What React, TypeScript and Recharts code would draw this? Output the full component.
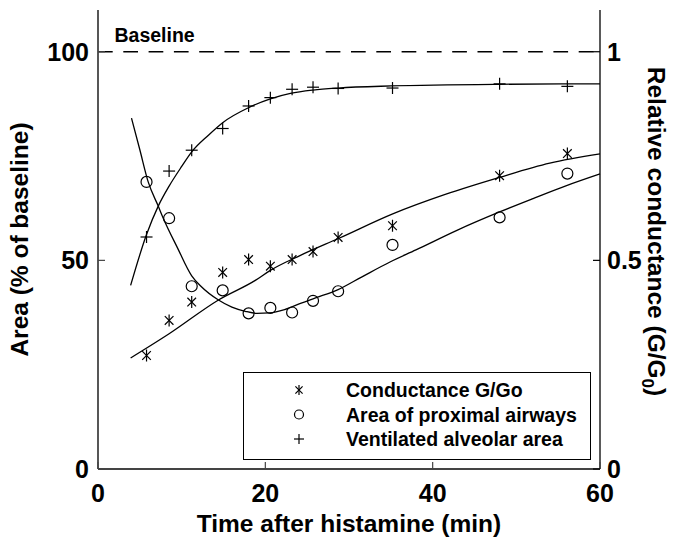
import React from 'react';
import {
  ComposedChart,
  Line,
  Scatter,
  XAxis,
  YAxis,
  ReferenceLine,
  Legend,
} from 'recharts';

// measured points (time after histamine, min)
const sampleTimes = [5.8, 8.5, 11.2, 14.9, 18.0, 20.6, 23.2, 25.7, 28.7, 35.2, 48.0, 56.1];
const conductance = [0.272, 0.356, 0.4, 0.471, 0.502, 0.486, 0.502, 0.521, 0.555, 0.583, 0.703, 0.756];
const proximalArea = [68.8, 60.1, 43.8, 42.8, 37.3, 38.6, 37.5, 40.3, 42.6, 53.7, 60.3, 70.8];
const alveolarArea = [55.6, 71.4, 76.4, 81.6, 87.0, 89.0, 91.0, 91.5, 91.2, 91.3, 92.3, 91.7];

// fitted curves
const conductanceFitT = [3.9, 8.5, 14.4, 18.8, 20.6, 24.2, 28.8, 35.3, 41.5, 48, 54, 60];
const conductanceFitV = [0.266, 0.324, 0.405, 0.452, 0.476, 0.512, 0.553, 0.612, 0.658, 0.699, 0.733, 0.755];

const proximalFitT = [4.0, 5.0, 6.0, 7.2, 7.8, 9.5, 11.2, 12.3, 14.4, 16.0, 17.6, 19.0, 20.5, 22.3, 24.2, 26.0, 28.7, 31.5, 34.9, 38.0, 42.9, 48.0, 52.0, 56.0, 60.0];
const proximalFitV = [84.1, 76.5, 68.8, 63.0, 60.1, 53.0, 46.3, 43.8, 40.5, 38.8, 37.8, 37.3, 37.4, 38.2, 39.7, 41.0, 43.0, 46.0, 49.6, 52.5, 57.2, 61.6, 64.8, 67.9, 70.7];

const alveolarFitT = [3.9, 5.8, 7.2, 8.5, 10.0, 11.2, 13.2, 14.9, 18.0, 20.6, 23.0, 25.7, 28.7, 35.0, 48.0, 60.0];
const alveolarFitV = [44.0, 56.2, 63.0, 67.8, 72.5, 76.0, 80.0, 83.0, 86.6, 88.7, 90.0, 90.8, 91.3, 91.8, 92.2, 92.3];

const xTicks = [0, 20, 40, 60];
const areaTicks = [0, 50, 100];
const conductanceTicks = [0, 0.5, 1];

const legendLabels = ['Conductance G/Go', 'Area of proximal airways', 'Ventilated alveolar area'];

const pairs = (ts: number[], vs: number[]) => ts.map((t, i) => ({ t, v: vs[i] }));

const conductancePts = pairs(sampleTimes, conductance);
const proximalPts = pairs(sampleTimes, proximalArea);
const alveolarPts = pairs(sampleTimes, alveolarArea);
const conductanceFit = pairs(conductanceFitT, conductanceFitV);
const proximalFit = pairs(proximalFitT, proximalFitV);
const alveolarFit = pairs(alveolarFitT, alveolarFitV);

const FONT = '"Liberation Sans", Arial, Helvetica, sans-serif';
const TICK_LEN = 7;
const AXIS_COLOR = '#444';

const Asterisk = ({ cx, cy, r = 6 }: any) => {
  const d = r * 0.72;
  return (
    <g stroke="#000" strokeWidth={1.2}>
      <line x1={cx} y1={cy - r} x2={cx} y2={cy + r} />
      <line x1={cx - d} y1={cy - d} x2={cx + d} y2={cy + d} />
      <line x1={cx - d} y1={cy + d} x2={cx + d} y2={cy - d} />
    </g>
  );
};

const Ring = ({ cx, cy, r = 5.5 }: any) => (
  <circle cx={cx} cy={cy} r={r} fill="none" stroke="#000" strokeWidth={1.2} />
);

const Cross = ({ cx, cy, r = 6 }: any) => (
  <g stroke="#000" strokeWidth={1.2}>
    <line x1={cx - r} y1={cy} x2={cx + r} y2={cy} />
    <line x1={cx} y1={cy - r} x2={cx} y2={cy + r} />
  </g>
);

const BottomTick = ({ x, y, payload }: any) => {
  const axisY = y - 14;
  return (
    <g>
      <line x1={x} x2={x} y1={axisY} y2={axisY - TICK_LEN} stroke={AXIS_COLOR} strokeWidth={1.2} />
      <text x={x} y={axisY + 33} textAnchor="middle" fontFamily={FONT} fontWeight="bold" fontSize={25} fill="#000">
        {payload.value}
      </text>
    </g>
  );
};

const LeftTick = ({ x, y, payload }: any) => {
  const axisX = x + 9;
  return (
    <g>
      <line x1={axisX} x2={axisX + TICK_LEN} y1={y} y2={y} stroke={AXIS_COLOR} strokeWidth={1.2} />
      <text x={x} y={y + 9} textAnchor="end" fontFamily={FONT} fontWeight="bold" fontSize={25} fill="#000">
        {payload.value}
      </text>
    </g>
  );
};

const RightTick = ({ x, y, payload }: any) => {
  const axisX = x - 7;
  return (
    <g>
      <line x1={axisX} x2={axisX - TICK_LEN} y1={y} y2={y} stroke="#000" strokeWidth={1.2} />
      <text x={x} y={y + 9} textAnchor="start" fontFamily={FONT} fontWeight="bold" fontSize={25} fill="#000">
        {payload.value}
      </text>
    </g>
  );
};

const LegendBox = () => {
  const symbols = [Asterisk, Ring, Cross];
  return (
    <div style={{ width: 348, height: 88, border: '1.5px solid #000', boxSizing: 'border-box', background: '#fff' }}>
      <svg width={345} height={85}>
        {legendLabels.map((label, i) => {
          const Sym = symbols[i];
          const cy = 17 + i * 24.5;
          return (
            <g key={label}>
              <Sym cx={55} cy={cy} r={i === 1 ? 4.5 : 5} />
              <text x={102} y={cy + 7} fontFamily={FONT} fontWeight="bold" fontSize={19.5} fill="#000">
                {label}
              </text>
            </g>
          );
        })}
      </svg>
    </div>
  );
};

export default function App() {
  return (
    <div style={{ position: 'absolute', left: 0, top: 0, background: '#fff' }}>
      <ComposedChart width={673} height={539} margin={{ top: 10, right: 0, bottom: 0, left: 0 }}>
        <XAxis
          dataKey="t"
          type="number"
          domain={[0, 60]}
          ticks={xTicks}
          height={70}
          tickSize={0}
          tickMargin={14}
          tickLine={false}
          axisLine={{ stroke: AXIS_COLOR, strokeWidth: 1.8 }}
          tick={<BottomTick />}
          label={{
            value: 'Time after histamine (min)',
            position: 'insideBottom',
            offset: 7,
            fill: '#000',
            fontSize: 24.5,
            fontWeight: 'bold',
            fontFamily: FONT,
          }}
        />
        <YAxis
          yAxisId="left"
          type="number"
          domain={[0, 110]}
          ticks={areaTicks}
          width={98}
          tickSize={0}
          tickMargin={9}
          tickLine={false}
          axisLine={{ stroke: AXIS_COLOR, strokeWidth: 1.8 }}
          tick={<LeftTick />}
          label={{
            value: 'Area (% of baseline)',
            angle: -90,
            position: 'insideLeft',
            offset: 19,
            fill: '#000',
            fontSize: 24.5,
            fontWeight: 'bold',
            fontFamily: FONT,
            style: { textAnchor: 'middle' },
          }}
        />
        <YAxis
          yAxisId="right"
          orientation="right"
          type="number"
          domain={[0, 1.1]}
          ticks={conductanceTicks}
          width={73}
          tickSize={0}
          tickMargin={7}
          tickLine={false}
          axisLine={{ stroke: '#000', strokeWidth: 1.3 }}
          tick={<RightTick />}
          label={{
            position: 'insideRight',
            content: ({ viewBox }: any) => {
              const x = viewBox.x + 48;
              const y = viewBox.y + viewBox.height / 2 - 8;
              return (
                <text
                  x={x}
                  y={y}
                  transform={`rotate(90, ${x}, ${y})`}
                  textAnchor="middle"
                  fontFamily={FONT}
                  fontWeight="bold"
                  fontSize={24.5}
                  fill="#000"
                >
                  Relative conductance (G/G
                  <tspan dy={6} fontSize={17}>0</tspan>
                  <tspan dy={-6}>)</tspan>
                </text>
              );
            },
          }}
        />
        <ReferenceLine
          yAxisId="left"
          y={100}
          stroke="#000"
          strokeWidth={1.3}
          strokeDasharray="14.7 10.6"
          label={{
            content: ({ viewBox }: any) => (
              <text x={viewBox.x + 16.5} y={viewBox.y - 10} fontFamily={FONT} fontWeight="bold" fontSize={19.5} fill="#000">
                Baseline
              </text>
            ),
          }}
        />

        <Line yAxisId="left" data={alveolarFit} dataKey="v" type="monotone" stroke="#000" strokeWidth={1.3} dot={false} activeDot={false} isAnimationActive={false} />
        <Line yAxisId="left" data={proximalFit} dataKey="v" type="monotone" stroke="#000" strokeWidth={1.3} dot={false} activeDot={false} isAnimationActive={false} />
        <Line yAxisId="right" data={conductanceFit} dataKey="v" type="monotone" stroke="#000" strokeWidth={1.3} dot={false} activeDot={false} isAnimationActive={false} />

        <Scatter yAxisId="right" data={conductancePts} dataKey="v" shape={<Asterisk />} isAnimationActive={false} />
        <Scatter yAxisId="left" data={proximalPts} dataKey="v" shape={<Ring />} isAnimationActive={false} />
        <Scatter yAxisId="left" data={alveolarPts} dataKey="v" shape={<Cross />} isAnimationActive={false} />

        <Legend
          layout="vertical"
          align="center"
          verticalAlign="middle"
          content={() => <LegendBox />}
          wrapperStyle={{ left: 243, top: 372, width: 348, height: 88 }}
        />
      </ComposedChart>
    </div>
  );
}
